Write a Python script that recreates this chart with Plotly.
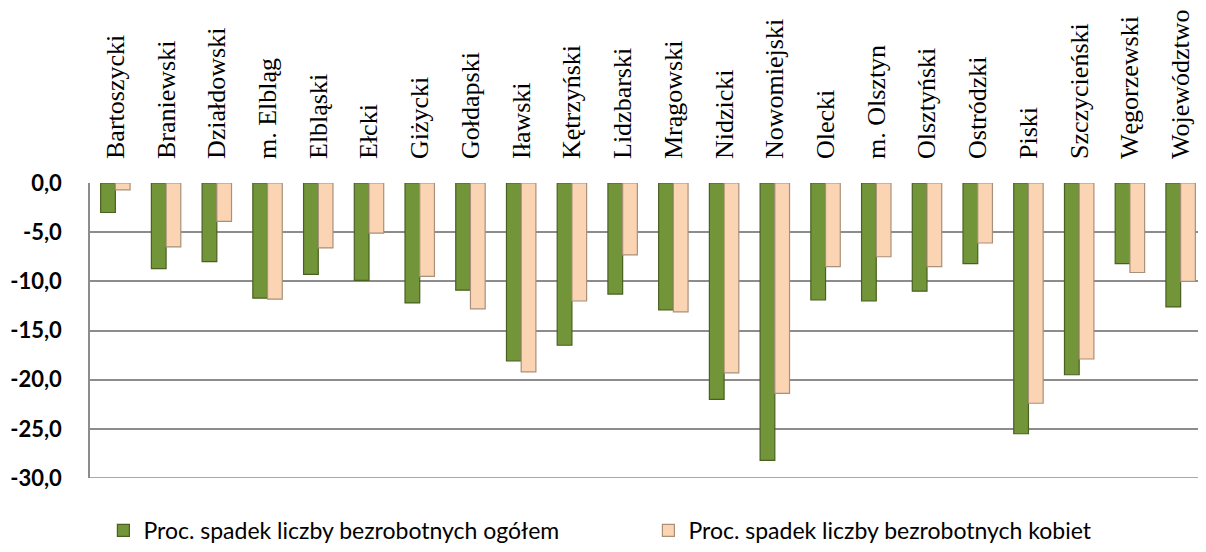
import plotly.graph_objects as go

categories = ["Bartoszycki", "Braniewski", "Działdowski", "m. Elbląg", "Elbląski", "Ełcki",
              "Giżycki", "Gołdapski", "Iławski", "Kętrzyński", "Lidzbarski", "Mrągowski",
              "Nidzicki", "Nowomiejski", "Olecki", "m. Olsztyn", "Olsztyński", "Ostródzki",
              "Piski", "Szczycieński", "Węgorzewski", "Województwo"]

ogolem = [-3.0, -8.7, -8.0, -11.7, -9.3, -9.9,
          -12.2, -10.9, -18.1, -16.5, -11.3, -12.9,
          -22.0, -28.2, -11.9, -12.0, -11.0, -8.2,
          -25.5, -19.5, -8.2, -12.6]

kobiety = [-0.7, -6.5, -3.9, -11.8, -6.6, -5.1,
           -9.5, -12.8, -19.2, -12.0, -7.3, -13.1,
           -19.3, -21.4, -8.5, -7.5, -8.5, -6.1,
           -22.4, -17.9, -9.1, -10.0]

series_names = ["Proc. spadek liczby bezrobotnych ogółem",
                "Proc. spadek liczby bezrobotnych kobiet"]

y_tickvals = [0, -5, -10, -15, -20, -25, -30]
y_ticktext = ["0,0", "-5,0", "-10,0", "-15,0", "-20,0", "-25,0", "-30,0"]

fig = go.Figure()
fig.add_trace(go.Bar(x=categories, y=ogolem, name=series_names[0],
                     marker=dict(color="#72953A", line=dict(color="#4A6020", width=1.2))))
fig.add_trace(go.Bar(x=categories, y=kobiety, name=series_names[1],
                     marker=dict(color="#FBD4B4", line=dict(color="#A8907A", width=1.2))))

fig.update_layout(
    width=1198, height=544,
    margin=dict(l=82, r=0, t=175, b=65),
    paper_bgcolor="white", plot_bgcolor="white",
    barmode="group", bargap=0.42, bargroupgap=0.0,
    showlegend=True,
    legend=dict(orientation="h", x=0.012, xanchor="left", y=-0.178, yanchor="middle",
                font=dict(family="Lato", size=23, color="black"),
                entrywidth=500, entrywidthmode="pixels", itemwidth=30),
    xaxis=dict(side="top", tickangle=-90, showgrid=False, showline=False, ticks="",
               automargin=False, ticklabelstandoff=23,
               tickfont=dict(family="Liberation Serif", size=26, color="black")),
    yaxis=dict(range=[-30, 0], tickvals=y_tickvals, ticktext=y_ticktext,
               showgrid=True, gridcolor="#8C8C8C", gridwidth=1.5,
               showline=True, linecolor="#8C8C8C", linewidth=1.5, zeroline=False,
               automargin=False, ticklabelstandoff=22,
               ticks="", tickfont=dict(family="Lato", size=22, color="black", weight="bold")),
)
fig.add_shape(type="line", xref="paper", yref="y", x0=0, x1=1, y0=-30, y1=-30,
              line=dict(color="#8C8C8C", width=1.5))

fig.write_html("out.html")
